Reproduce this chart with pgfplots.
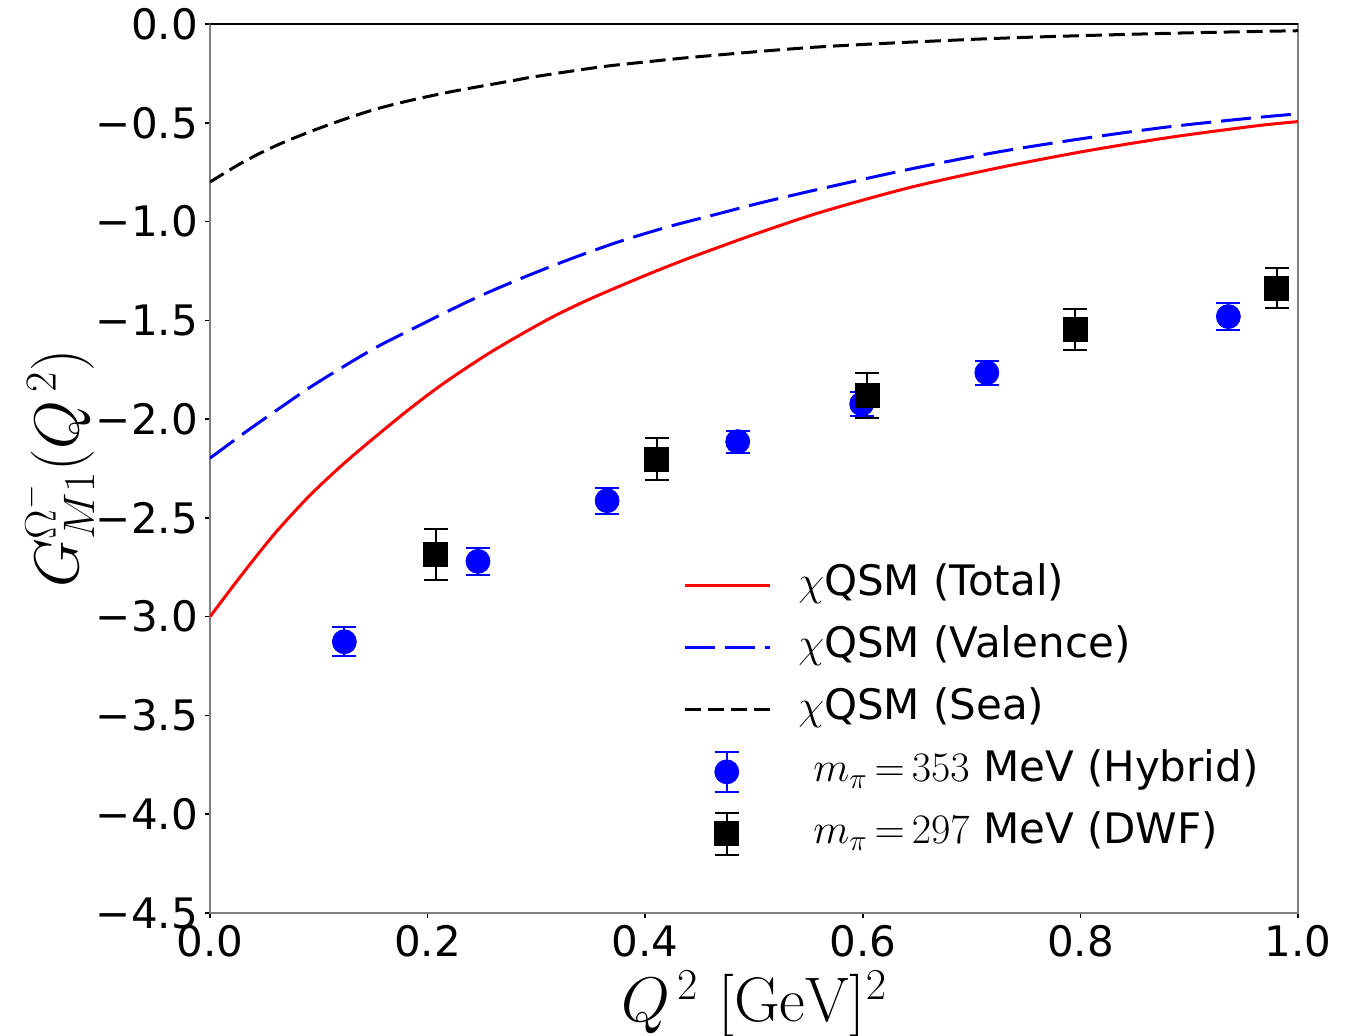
\RequirePackage{fix-cm}
\documentclass[border=0pt]{standalone}
\usepackage[no-math]{fontspec}
\setmainfont{DejaVu Sans}
\usepackage{pgfplots}
\usepackage{pgfplotstable}
\pgfplotsset{compat=1.18}

% chiral quark-soliton model curves
\pgfplotstableread{
q g
0.000 -3.000
0.031 -2.775
0.061 -2.570
0.092 -2.385
0.123 -2.225
0.153 -2.085
0.184 -1.946
0.215 -1.818
0.254 -1.675
0.285 -1.574
0.3155 -1.481
0.346 -1.400
0.377 -1.326
0.4075 -1.256
0.438 -1.190
0.469 -1.127
0.5055 -1.055
0.563 -0.950
0.643 -0.828
0.722 -0.731
0.802 -0.646
0.882 -0.574
0.961 -0.516
1.000 -0.494
}\totaltab

\pgfplotstableread{
q g
0.000 -2.198
0.031 -2.072
0.061 -1.956
0.092 -1.839
0.123 -1.733
0.153 -1.636
0.184 -1.549
0.239 -1.400
0.285 -1.290
0.331 -1.190
0.377 -1.100
0.4228 -1.024
0.469 -0.958
0.5055 -0.906
0.563 -0.832
0.643 -0.735
0.722 -0.650
0.802 -0.580
0.882 -0.520
0.961 -0.474
1.000 -0.455
}\valencetab

\pgfplotstableread{
q g
0.000 -0.800
0.031 -0.697
0.061 -0.615
0.092 -0.545
0.123 -0.483
0.153 -0.430
0.184 -0.387
0.215 -0.350
0.239 -0.325
0.282 -0.283
0.297 -0.268
0.358 -0.218
0.404 -0.190
0.450 -0.165
0.563 -0.115
0.722 -0.073
0.882 -0.047
1.000 -0.034
}\seatab

% lattice results
\pgfplotstableread{
q g e
0.1235 -3.127 0.073
0.2463 -2.720 0.067
0.3650 -2.413 0.065
0.4850 -2.114 0.056
0.5990 -1.923 0.059
0.7140 -1.765 0.061
0.9360 -1.481 0.069
}\hybridtab

\pgfplotstableread{
q g e
0.2074 -2.685 0.128
0.4105 -2.203 0.107
0.6040 -1.881 0.114
0.7950 -1.546 0.102
0.9805 -1.336 0.103
}\dwftab

\begin{document}
\begin{tikzpicture}
\begin{axis}[
  scale only axis,
  width=544pt, height=444.5pt,
  xmin=0, xmax=1, ymin=-4.5, ymax=0,
  xtick={0,0.2,0.4,0.6,0.8,1.0},
  xticklabels={0.0,0.2,0.4,0.6,0.8,1.0},
  ytick={-4.5,-4,-3.5,-3,-2.5,-2,-1.5,-1,-0.5,0},
  yticklabels={−4.5,−4.0,−3.5,−3.0,−2.5,−2.0,−1.5,−1.0,−0.5,0.0},
  tick pos=left,
  tick align=outside,
  major tick length=2.5pt,
  tick style={black, line width=0.75pt},
  axis line style={gray, line width=0.75pt},
  ticklabel style={font=\fontsize{21}{25}\selectfont},
  xlabel={$Q^{\,2}\ [\mathrm{GeV}]^2$},
  ylabel={$G^{\Omega^-}_{M1}(Q^{\,2})$},
  ylabel shift=-6pt,
  label style={font=\fontsize{31.5}{36}\selectfont},
  legend cell align=left,
  legend style={
    draw=none, fill=none, inner sep=0pt, outer sep=0pt,
    at={(0.435,0.395)}, anchor=north west,
    font=\fontsize{21}{25}\selectfont,
    row sep=7pt, column sep=11.5pt,
    nodes={inner sep=2pt, text height=15pt, text depth=5pt},
  },
  legend image code/.code={\draw[#1, line width=1.5pt] (0pt,0pt) -- (42.5pt,0pt);},
]
\addplot[red, line width=1.5pt, smooth] table[x=q, y=g] {\totaltab};
\addlegendentry{$\chi$QSM (Total)}
\addplot[blue, line width=1.5pt, smooth, dash pattern=on 15pt off 5pt] table[x=q, y=g] {\valencetab};
\addlegendentry{$\chi$QSM (Valence)}
\addplot[black, line width=1.5pt, smooth, dash pattern=on 8pt off 3.5pt] table[x=q, y=g] {\seatab};
\addlegendentry{$\chi$QSM (Sea)}

\addplot[blue, only marks, mark=*, mark size=6pt, mark options={draw=blue, fill=blue},
  legend image code/.code={
    \draw[blue, line width=1pt] (21pt,-10pt) -- (21pt,10pt);
    \draw[blue, line width=1pt] (15pt,-10pt) -- (27pt,-10pt);
    \draw[blue, line width=1pt] (15pt,10pt) -- (27pt,10pt);
    \fill[blue] (21pt,0pt) circle (6pt);
  },
  error bars/.cd, y dir=both, y explicit,
  error bar style={line width=1pt},
  error mark options={rotate=90, mark size=6pt, line width=1pt}]
  table[x=q, y=g, y error=e] {\hybridtab};
\addlegendentry{\hspace*{7.5pt}$m_\pi\,{=}\,353$ MeV (Hybrid)}

\addplot[black, only marks, mark=square*, mark size=6pt, mark options={draw=black, fill=black},
  legend image code/.code={
    \draw[black, line width=1pt] (21pt,-10.5pt) -- (21pt,10.5pt);
    \draw[black, line width=1pt] (15pt,-10.5pt) -- (27pt,-10.5pt);
    \draw[black, line width=1pt] (15pt,10.5pt) -- (27pt,10.5pt);
    \fill[black] (15pt,-6pt) rectangle (27pt,6pt);
  },
  error bars/.cd, y dir=both, y explicit,
  error bar style={line width=1pt},
  error mark options={rotate=90, mark size=6pt, line width=1pt}]
  table[x=q, y=g, y error=e] {\dwftab};
\addlegendentry{\hspace*{7.5pt}$m_\pi\,{=}\,297$ MeV (DWF)}

\draw[black, line width=0.75pt] (rel axis cs:0,1) -- (rel axis cs:1,1);
\coordinate (sw) at (rel axis cs:0,0);
\coordinate (ne) at (rel axis cs:1,1);
\end{axis}
\path (sw) ++(-105pt,-61pt) coordinate (bbA);
\path (ne) ++(33pt,12pt) coordinate (bbB);
\pgfresetboundingbox
\path (bbA) rectangle (bbB);
\end{tikzpicture}
\end{document}
